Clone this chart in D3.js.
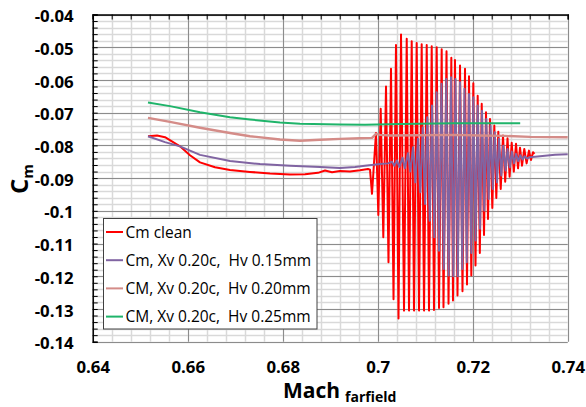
<!DOCTYPE html>
<html><head><meta charset="utf-8">
<script src="https://cdn.jsdelivr.net/npm/d3@7"></script>
<style>
html,body{margin:0;padding:0;background:#fff;}
svg{display:block;}
</style></head>
<body>
<script>
// ---------------- data ----------------
const seriesNames = ["Cm clean","Cm, Xv 0.20c,  Hv 0.15mm","CM, Xv 0.20c,  Hv 0.20mm","CM, Xv 0.20c,  Hv 0.25mm"];
const seriesColors = ["#ff0000","#8064a2","#d48c88","#1fb46a"];

const xTicks = [0.64,0.66,0.68,0.70,0.72,0.74];
const xTickLabels = ["0.64","0.66","0.68","0.7","0.72","0.74"];
const yTicks = [-0.14,-0.13,-0.12,-0.11,-0.10,-0.09,-0.08,-0.07,-0.06,-0.05,-0.04];
const yTickLabels = ["-0.14","-0.13","-0.12","-0.11","-0.1","-0.09","-0.08","-0.07","-0.06","-0.05","-0.04"];

// Cm clean
const cleanMach = [0.65164,0.65354,0.65522,0.65838,0.66048,0.66259,0.66575,0.66891,0.67312,0.67733,0.68154,0.68470,0.68743,0.68891,0.69038,0.69206,0.69417,0.69627,0.69796,0.69838,
 0.69880,0.69964,0.70013,0.70063,0.70118,0.70175,0.70227,0.70280,0.70333,0.70385,0.70438,0.70491,0.70554,0.70611,0.70659,0.70716,0.70764,0.70821,0.70870,0.70926,0.70975,0.71032,0.71080,0.71137,0.71185,0.71242,0.71291,0.71347,0.71385,0.71449,0.71491,0.71550,0.71585,0.71627,0.71680,0.71733,0.71785,0.71838,0.71880,0.71922,0.71971,0.72013,0.72059,0.72105,0.72150,0.72190,0.72238,0.72280,0.72322,0.72364,0.72413,0.72455,0.72497,0.72539,0.72590,0.72638,0.72684,0.72733,0.72777,0.72821,0.72865,0.72912,0.72954,0.72996,0.73038,0.73086,0.73135,0.73185,0.73227,0.73270,0.73301];
const cleanCm = [-0.0772,-0.0770,-0.0775,-0.0803,-0.0830,-0.0852,-0.0867,-0.0875,-0.0881,-0.0886,-0.0889,-0.0888,-0.0884,-0.0877,-0.0882,-0.0878,-0.0880,-0.0876,-0.0872,-0.0874,
 -0.0948,-0.0762,-0.1013,-0.0688,-0.1081,-0.0620,-0.1157,-0.0566,-0.1270,-0.0493,-0.1329,-0.0461,-0.1305,-0.0474,-0.1305,-0.0482,-0.1305,-0.0487,-0.1305,-0.0491,-0.1305,-0.0493,-0.1305,-0.0497,-0.1303,-0.0500,-0.1297,-0.0506,-0.1295,-0.0512,-0.1284,-0.0532,-0.1274,-0.0539,-0.1259,-0.0556,-0.1246,-0.0566,-0.1225,-0.0589,-0.1198,-0.0610,-0.1167,-0.0648,-0.1129,-0.0673,-0.1074,-0.0699,-0.1025,-0.0719,-0.0991,-0.0739,-0.0961,-0.0758,-0.0933,-0.0770,-0.0911,-0.0778,-0.0896,-0.0792,-0.0880,-0.0795,-0.0870,-0.0807,-0.0862,-0.0811,-0.0855,-0.0816,-0.0845,-0.0821,-0.0826];

// Cm, Xv 0.20c, Hv 0.15mm
const hv15Mach = [0.65164,0.65522,0.65838,0.66259,0.66891,0.67522,0.68154,0.68785,0.69206,0.69522,0.69733,0.70048,0.70217,
 0.70301,0.70349,0.70406,0.70455,0.70522,0.70571,0.70638,0.70686,0.70743,0.70792,0.70848,0.70897,0.70947,0.70996,0.71044,0.71095,0.71143,0.71192,0.71242,0.71291,0.71343,0.71392,0.71444,0.71493,0.71543,0.71592,0.71638,0.71686,0.71733,0.71781,0.71827,0.71876,0.71922,0.71971,0.72013,0.72061,0.72105,0.72154,0.72196,0.72244,0.72286,0.72335,0.72375,0.72423,0.72463,0.72512,0.72554,0.72602,0.72644,0.72693,0.72733,0.72781,0.72823,0.72869,0.72912,0.72960,0.73002,0.73051,0.73091,0.73143,
 0.73206,0.73522,0.73733,0.74000];
const hv15Cm = [-0.0772,-0.0790,-0.0803,-0.0829,-0.0848,-0.0857,-0.0862,-0.0866,-0.0869,-0.0866,-0.0862,-0.0857,-0.0855,
 -0.0850,-0.0862,-0.0846,-0.0866,-0.0838,-0.0870,-0.0824,-0.0880,-0.0806,-0.0913,-0.0780,-0.0943,-0.0745,-0.0979,-0.0714,-0.1030,-0.0678,-0.1081,-0.0638,-0.1122,-0.0612,-0.1178,-0.0597,-0.1198,-0.0592,-0.1200,-0.0597,-0.1200,-0.0607,-0.1178,-0.0627,-0.1157,-0.0643,-0.1129,-0.0653,-0.1091,-0.0678,-0.1055,-0.0694,-0.0999,-0.0719,-0.0964,-0.0739,-0.0933,-0.0760,-0.0913,-0.0780,-0.0892,-0.0801,-0.0877,-0.0811,-0.0867,-0.0819,-0.0855,-0.0826,-0.0848,-0.0830,-0.0843,-0.0833,-0.0840,
 -0.0836,-0.0832,-0.0829,-0.0827];

// CM, Xv 0.20c, Hv 0.20mm
const hv20Mach = [0.65164,0.65627,0.66259,0.66891,0.67312,0.67943,0.68364,0.68785,0.69206,0.69627,0.69880,0.69964,0.70048,0.70259,0.70891,0.71627,0.72154,0.72680,0.73206,0.74000];
const hv20Cm = [-0.0716,-0.0728,-0.0746,-0.0762,-0.0772,-0.0782,-0.0786,-0.0783,-0.0780,-0.0778,-0.0777,-0.0765,-0.0768,-0.0770,-0.0769,-0.0768,-0.0770,-0.0771,-0.0774,-0.0775];

// CM, Xv 0.20c, Hv 0.25mm
const hv25Mach = [0.65164,0.65627,0.66259,0.66891,0.67312,0.67943,0.68364,0.69206,0.69733,0.70470,0.71627,0.73000];
const hv25Cm = [-0.0669,-0.0680,-0.0699,-0.0714,-0.0721,-0.0730,-0.0734,-0.0736,-0.0737,-0.0735,-0.0732,-0.0732];

// ---------------- chart ----------------
const W = 586, H = 407;
const svg = d3.select("body").append("svg").attr("width", W).attr("height", H);
const FONT = "'Open Sans', 'DejaVu Sans', sans-serif";

const x = d3.scaleLinear().domain([0.64, 0.74]).range([92.7, 567.7]);
const y = d3.scaleLinear().domain([-0.14, -0.04]).range([341.7, 14.5]);

const x0 = x.range()[0], x1 = x.range()[1], y0 = y.range()[0], y1 = y.range()[1];

// minor grid
const xMinor = d3.range(0, 26).map(i => 0.64 + i * 0.004);
const yMinor = d3.range(0, 51).map(i => -0.14 + i * 0.002);
const grid = svg.append("g");
grid.selectAll(".ymin").data(yMinor).join("line")
  .attr("x1", x0).attr("x2", x1)
  .attr("y1", d => Math.round(y(d)) + 0.5).attr("y2", d => Math.round(y(d)) + 0.5)
  .attr("stroke", "#d9d9d9").attr("stroke-width", 1.5);
grid.selectAll(".xmin").data(xMinor).join("line")
  .attr("y1", y0).attr("y2", y1)
  .attr("x1", d => Math.round(x(d)) + 0.5).attr("x2", d => Math.round(x(d)) + 0.5)
  .attr("stroke", "#d9d9d9").attr("stroke-width", 1.5);
grid.selectAll(".ymaj").data(yTicks).join("line")
  .attr("x1", x0).attr("x2", x1)
  .attr("y1", d => Math.round(y(d)) + 0.5).attr("y2", d => Math.round(y(d)) + 0.5)
  .attr("stroke", "#8c8c8c").attr("stroke-width", 1);
grid.selectAll(".xmaj").data(xTicks).join("line")
  .attr("y1", y0).attr("y2", y1)
  .attr("x1", d => Math.round(x(d)) + 0.5).attr("x2", d => Math.round(x(d)) + 0.5)
  .attr("stroke", "#8c8c8c").attr("stroke-width", 1);

// series
const line = d3.line().x(d => x(d[0])).y(d => y(d[1]));
const series = [
  d3.zip(cleanMach, cleanCm),
  d3.zip(hv15Mach, hv15Cm),
  d3.zip(hv20Mach, hv20Cm),
  d3.zip(hv25Mach, hv25Cm)
];
const plot = svg.append("g");
series.forEach((s, i) => {
  plot.append("path").datum(s).attr("d", line)
    .attr("fill", "none").attr("stroke", seriesColors[i])
    .attr("stroke-width", i === 2 ? 2.4 : 2).attr("stroke-linejoin", "round");
});

// axes (left & top, ticks inward)
const yAxisMinor = d3.axisRight(y).tickValues(yMinor).tickSize(5).tickFormat("");
svg.append("g").attr("transform", `translate(${x0},0)`).call(yAxisMinor)
  .call(g => g.selectAll("line").attr("stroke", "#000"))
  .call(g => g.select(".domain").attr("stroke", "#000").attr("stroke-width", 1.5));
const xAxisTop = d3.axisBottom(x).tickValues(xMinor).tickSize(5).tickFormat("");
svg.append("g").attr("transform", `translate(0,${y1})`).call(xAxisTop)
  .call(g => g.selectAll("line").attr("stroke", "#000"))
  .call(g => g.select(".domain").attr("stroke", "#000").attr("stroke-width", 1.5));

// tick labels via axes
const yAxisLab = d3.axisLeft(y).tickValues(yTicks).tickSize(0).tickPadding(19)
  .tickFormat((d, i) => yTickLabels[i]);
svg.append("g").attr("transform", `translate(${x0},0)`).call(yAxisLab)
  .call(g => g.select(".domain").remove())
  .call(g => g.selectAll("text").attr("font-family", FONT).attr("font-weight", "bold")
    .attr("font-size", "16.8px").attr("fill", "#000").attr("dy", "0.42em"));
const xAxisLab = d3.axisBottom(x).tickValues(xTicks).tickSize(0).tickPadding(19)
  .tickFormat((d, i) => xTickLabels[i]);
svg.append("g").attr("transform", `translate(0,${y0})`).call(xAxisLab)
  .call(g => g.select(".domain").remove())
  .call(g => g.selectAll("text").attr("font-family", FONT).attr("font-weight", "bold")
    .attr("font-size", "16.8px").attr("fill", "#000"));

// axis titles
const xt = svg.append("text").attr("x", 283).attr("y", 398)
  .attr("font-family", FONT).attr("font-weight", "bold").attr("fill", "#000");
xt.append("tspan").attr("font-size", "21px").text("Mach");
xt.append("tspan").attr("font-size", "14px").attr("dx", 5).attr("dy", 4).text("farfield");

const yt = svg.append("text").attr("transform", "translate(28,179) rotate(-90)")
  .attr("text-anchor", "middle")
  .attr("font-family", FONT).attr("font-weight", "bold").attr("fill", "#000");
yt.append("tspan").attr("font-size", "24px").text("C");
yt.append("tspan").attr("font-size", "15px").attr("dy", 5).text("m");

// legend
const lg = svg.append("g");
lg.append("rect").attr("x", 103.5).attr("y", 218.5).attr("width", 213.5).attr("height", 110.5)
  .attr("fill", "#fff").attr("stroke", "#404040").attr("stroke-width", 1);
seriesNames.forEach((n, i) => {
  const yy = 232 + i * 28.2;
  lg.append("line").attr("x1", 106).attr("x2", 123).attr("y1", yy).attr("y2", yy)
    .attr("stroke", seriesColors[i]).attr("stroke-width", 2);
  lg.append("text").attr("x", 125.5).attr("y", yy).attr("dy", "0.36em")
    .attr("font-family", FONT).attr("font-size", "15.5px").attr("fill", "#000")
    .attr("xml:space", "preserve").style("white-space", "pre").text(n);
});
</script>
</body></html>
